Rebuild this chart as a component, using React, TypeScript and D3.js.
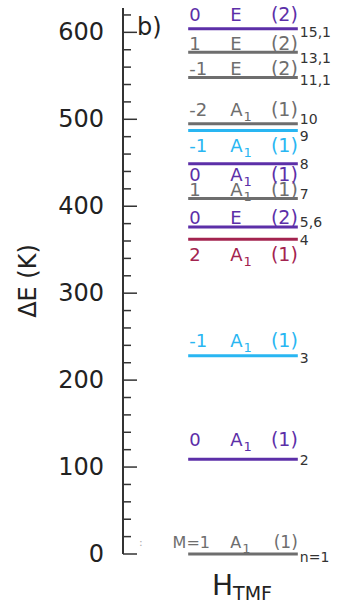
import React from "react";
import * as d3 from "d3";

// energy levels of the torsional (TMF) Hamiltonian, bottom to top
const levelIds = ["n=1", "2", "3", "4", "5,6", "7", "8", "9", "10", "11,1", "13,1", "15,1"];
const energies = [0, 109, 228, 362, 376, 409, 449, 487, 495, 548, 577, 604];
const mValues = ["M=1", "0", "-1", "2", "0", "1", "0", "-1", "-2", "-1", "1", "0"];
const symmetry = ["A1", "A1", "A1", "A1", "E", "A1", "A1", "A1", "A1", "E", "E", "E"];
const degeneracy = [1, 1, 1, 1, 2, 1, 1, 1, 1, 2, 2, 2];
const yTicks = d3.range(0, 621, 20);
const yLabels = [0, 100, 200, 300, 400, 500, 600];

const PURPLE = "#5c2fa8";
const CYAN = "#29b6f2";
const GRAY = "#6e6e6e";
const CRIMSON = "#a3234f";
const levelColors = [GRAY, PURPLE, CYAN, CRIMSON, PURPLE, GRAY, PURPLE, CYAN, GRAY, GRAY, GRAY, PURPLE];

// label nudges (px) so that they sit like in the original figure
const textDy = [-6, -13, -9, 22, -3, -2, 17, 21, -8, -3, -2, -8];
const idDy = [3, 1, 2, 1, -5, -4, 0, 5, -5, 2, 6, 3];

const W = 344;
const H = 611;

export default function App() {
  const y = d3.scaleLinear().domain([0, 628]).range([554, 8]);
  const x = d3.scaleBand().domain(["TMF"]).range([178, 308]).padding(0.085);
  const x0 = x("TMF") as number;
  const x1 = x0 + x.bandwidth();
  const axisX = 123;
  const font = "DejaVu Sans, sans-serif";

  return (
    <svg width={W} height={H} style={{ position: "absolute", left: 0, top: 0 }} fontFamily={font}>
      <rect width={W} height={H} fill="#fff" />
      {/* y axis */}
      <line x1={axisX} x2={axisX} y1={y(0)} y2={y(628)} stroke="#333" strokeWidth={2} />
      {yTicks.map((t) => (
        <line
          key={t}
          x1={axisX}
          x2={axisX + (t % 100 === 0 ? 14 : 8)}
          y1={y(t)}
          y2={y(t)}
          stroke="#333"
          strokeWidth={1.5}
        />
      ))}
      {yLabels.map((t) => (
        <text key={t} x={104} y={y(t)} textAnchor="end" dominantBaseline="central" fontSize={24} fill="#222">
          {t}
        </text>
      ))}
      <text
        transform={`translate(36,${y(314)}) rotate(-90)`}
        textAnchor="middle"
        fontSize={24}
        fill="#222"
      >
        ΔE (K)
      </text>
      <text x={137} y={35} fontSize={24} fill="#222">
        b)
      </text>
      {/* clipped leftover glyph next to the ground level */}
      <text x={139} y={y(0) - 8} fontSize={11} fill="#aaa">
        :
      </text>

      {/* levels */}
      {energies.map((e, i) => {
        const ly = y(e);
        const c = levelColors[i];
        const ty = ly + textDy[i];
        const small = i === 0;
        const fs = small ? 16 : 18;
        return (
          <g key={levelIds[i]}>
            <line x1={x0} x2={x1} y1={ly} y2={ly} stroke={c} strokeWidth={3} />
            <text x={small ? 210 : x0 + 1} y={ty} fontSize={fs} fill={c} textAnchor={small ? "end" : "start"}>
              {mValues[i]}
            </text>
            <text x={x0 + 42} y={ty} fontSize={fs} fill={c}>
              {symmetry[i][0]}
              {symmetry[i].length > 1 && (
                <tspan fontSize={13} dy={5} dx={1}>
                  {symmetry[i].slice(1)}
                </tspan>
              )}
            </text>
            <text x={x1} y={ty} fontSize={fs + 1} fill={c} textAnchor="end">
              ({degeneracy[i]})
            </text>
            <text x={x1 + 2} y={ly + idDy[i]} fontSize={14} fill="#333" dominantBaseline="central">
              {levelIds[i]}
            </text>
          </g>
        );
      })}

      {/* x label */}
      <text x={212} y={595} fontSize={28} fill="#222">
        H
        <tspan fontSize={19} dy={5}>
          TMF
        </tspan>
      </text>
    </svg>
  );
}
